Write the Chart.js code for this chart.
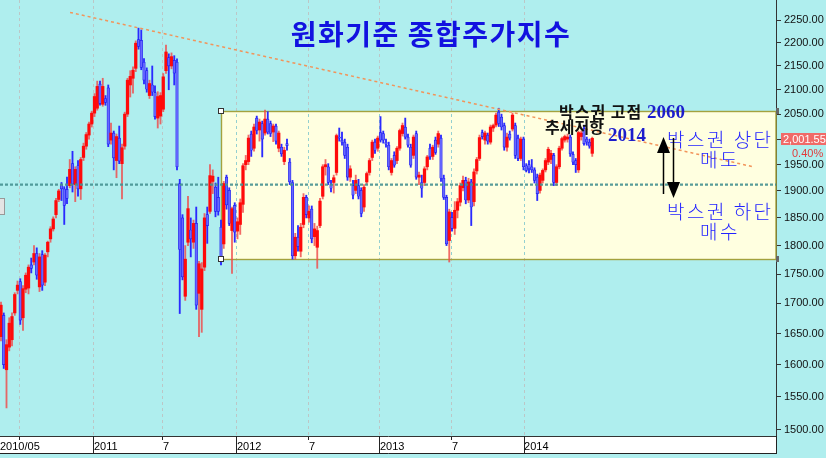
<!DOCTYPE html>
<html><head><meta charset="utf-8">
<script src="https://cdn.jsdelivr.net/npm/chart.js@4.4.1/dist/chart.umd.min.js"></script>
<style>html,body{margin:0;padding:0;background:#afeeee;overflow:hidden}canvas{display:block}</style>
</head><body>
<canvas id="c" width="826" height="458" style="width:826px;height:458px"></canvas>
<script>
// ---- weekly candles (bar index 0 = first week shown) ----
const opens = [1645,1680,1592,1628,1640,1684,1722,1737,1676,1724, 1726,1766,1771,1786,1728,1784,1736,1789,1812,1830, 1856,1884,1912,1904,1903,1910,1952,1912,1948,1904, 1964,1986,2008,2030,2052,2062,2112,2070,2082,2104, 1998,2012,1958,2002,1952,1986,2050,2110,2124,2145, 2207,2205,2158,2140,2088,2110,2094,2042,2046,2060, 2140,2168,2150,2162,2158,1914,1850,1712,1806,1828, 1806,1840,1717,1690,1762,1856,1862,1918,1907,1888, 1833,1803,1926,1901,1827,1873,1826,1838,1875,1950, 1956,2010,1982,2042,2018,2031,2012,2040,2031,2014, 2026,1982,1984,1956,1991,1955,1916,1782,1815,1790, 1838,1888,1850,1866,1816,1797,1836,1890,1946,1946, 1912,1916,1935,2004,1998,1994,1984,1926,1910,1901, 1910,1901,1870,1917,1935,1964,1994,1982,2013,2011, 1994,1988,1935,1968,1958,1982,2011,2024,2004,1984, 1968,2011,1926,1916,1916,1946,1982,1966,1998,1990, 2002,1924,1888,1809,1851,1831,1864,1879,1906,1920, 1883,1917,1880,1938,1962,2013,1998,2008,1994,2022, 2028,2054,2044,2027,1984,2010,2020,2027,2002,1962, 2000,1948,1950,1946,1940,1926,1901,1920,1940,1955, 1960,1968,1916,1946,1982,1998,2000,2004,1970,1958, 1940,2005,2021,2000,1994,1972];
const highs = [1702,1684,1640,1676,1684,1718,1738,1742,1730,1752, 1766,1778,1800,1796,1786,1791,1786,1808,1834,1852, 1886,1903,1916,1908,1926,1960,1976,1946,1958,1964, 1992,2013,2034,2056,2092,2118,2118,2124,2088,2110, 2032,2016,2010,2026,1990,2054,2124,2140,2148,2204, 2232,2228,2166,2146,2120,2150,2108,2096,2094,2134, 2195,2176,2178,2172,2165,1922,1856,1800,1890,1850, 1846,1870,1772,1770,1858,1870,1950,1940,1915,1926, 1846,1918,1930,1906,1870,1878,1850,1885,1952,1968, 2008,2016,2030,2046,2040,2036,2058,2055,2036,2030, 2030,2016,1990,1984,2000,1962,1920,1822,1836,1840, 1895,1892,1872,1872,1840,1835,1886,1950,1960,1952, 1920,1930,2010,2022,2014,2000,1990,1948,1920,1930, 1922,1906,1912,1936,1962,1998,2000,2006,2045,2016, 2000,1994,1962,1975,1985,2020,2032,2042,2010,1990, 2008,2016,1936,1930,1946,1968,1990,1988,2004,2016, 2008,1930,1892,1866,1860,1880,1886,1915,1928,1926, 1924,1922,1942,1964,2008,2018,2016,2012,2028,2030, 2052,2062,2050,2032,2012,2016,2052,2032,2008,2004, 2004,1952,1958,1960,1944,1932,1934,1942,1962,1984, 1978,1972,1950,1986,2004,2008,2010,2008,1975,1962, 2016,2016,2028,2004,2000,2004];
const lows = [1638,1594,1533,1622,1630,1680,1716,1665,1655,1718, 1716,1752,1766,1741,1720,1722,1730,1780,1806,1826, 1850,1880,1882,1838,1876,1906,1898,1880,1890,1884, 1958,1980,2000,2024,2045,2058,2068,2066,2068,1985, 1990,1940,1925,1952,1885,1980,2045,2085,2093,2138, 2186,2142,2112,2095,2082,2088,2040,2022,2030,2055, 2134,2100,2144,2110,1940,1683,1740,1705,1800,1780, 1795,1690,1645,1652,1756,1804,1858,1895,1852,1855, 1766,1795,1866,1836,1751,1806,1812,1820,1860,1940, 1950,1966,1976,2010,1996,1965,2008,2010,2005,1995, 1990,1975,1966,1950,1978,1912,1776,1776,1790,1780, 1832,1850,1842,1805,1800,1760,1832,1885,1930,1912, 1898,1896,1930,1996,1988,1962,1920,1918,1885,1895, 1885,1852,1862,1912,1930,1958,1972,1976,1994,1992, 1984,1940,1930,1945,1952,1978,2006,2000,1984,1945, 1962,1922,1912,1888,1910,1940,1960,1960,1970,1984, 1918,1884,1800,1771,1826,1820,1850,1872,1900,1876, 1878,1836,1872,1932,1958,2000,1990,1990,1990,2015, 2024,2025,2018,1978,1976,1998,2016,1962,1958,1958, 1940,1936,1934,1935,1915,1882,1896,1915,1936,1950, 1952,1910,1910,1942,1978,1994,1994,1966,1950,1935, 1935,1998,1988,1988,1982,1966];
const closes = [1697,1600,1632,1667,1678,1715,1731,1672,1725,1748, 1762,1760,1786,1748,1780,1731,1783,1806,1830,1848, 1882,1900,1904,1873,1886,1941,1913,1941,1904,1960, 1986,2009,2030,2052,2086,2107,2072,2107,2074,1990, 2012,1963,2005,1957,1983,2050,2120,2128,2141,2199, 2192,2147,2120,2101,2113,2095,2045,2086,2088,2127, 2180,2150,2170,2135,1946,1793,1745,1776,1867,1812, 1840,1697,1768,1759,1850,1836,1929,1928,1862,1862, 1775,1914,1874,1840,1867,1824,1843,1878,1948,1958, 2002,1978,2024,2017,2034,2000,2040,2014,2011,2026, 1996,2012,1971,1978,1987,1917,1782,1815,1798,1833, 1888,1856,1862,1812,1830,1827,1881,1946,1950,1916, 1905,1925,2007,2002,1994,1968,1926,1942,1892,1920, 1890,1858,1907,1933,1958,1994,1978,2002,1998,1998, 1990,1946,1958,1949,1982,2017,2027,2004,1988,1949, 2004,1926,1930,1905,1942,1965,1965,1984,1974,2011, 1924,1888,1803,1861,1831,1864,1880,1910,1920,1883, 1917,1870,1936,1960,2003,2005,2012,1996,2024,2027, 2048,2031,2024,1984,2004,2002,2048,1968,1962,2000, 1946,1939,1942,1940,1920,1895,1930,1939,1958,1980, 1972,1916,1946,1982,2001,2005,2004,1971,1955,1950, 2013,2012,1991,1994,1986,2001.55];

// ---- axis ticks ----
const xTickPos    = [6.9, 33.8, 58.9, 85.8, 112, 137.8, 164, 190.2];
const xTickLabels = ['2010/05','2011','7','2012','7','2013','7','2014'];
const yTicks = [1500,1550,1600,1650,1700,1750,1800,1850,1900,1950,2000,2050,2100,2150,2200,2250];

// ---- annotations (values) ----
const boxStartIdx = 80, boxTop = 2056, boxBottom = 1776;
const supportLevel = 1912;
const trendIdx = [25.1, 273.5];
const trendVal = [2267, 1946];
const lastPriceText = '2,001.55';
const lastChangeText = '0.40%';
const titleText = '원화기준 종합주가지수';

const X_MIN = -0.364, X_MAX = 281.82, Y_MIN = 1491, Y_MAX = 2295;

const UP_BODY = '#ff0a0a', UP_WICK = 'rgba(240,70,70,0.8)';
const DN_BODY = 'rgba(110,110,255,0.92)', DN_BORDER = '#1c1cf0', DN_WICK = '#2a2aff';

const isUp = closes.map((c, i) => c >= opens[i]);
const wickData = highs.map((h, i) => ({x: i, y: [lows[i], h]}));
const bodyData = opens.map((o, i) => ({x: i, y: [Math.min(o, closes[i]), Math.max(o, closes[i])]}));

// axis ticks: the first label ('2010/05') is drawn flush at the left edge, its grid line stays at its date
const axisTicks = [{value: X_MIN, text: xTickLabels[0], line: false}, {value: xTickPos[0], text: '', line: true}]
  .concat(xTickPos.slice(1).map((v, i) => ({value: v, text: xTickLabels[i + 1], line: true})));

function alignPx(p){ return Math.round(p - 0.5) + 0.5; }

const deco = {
  id: 'deco',
  beforeDraw(chart) {
    const {ctx, chartArea: a, scales: {x, y}} = chart;
    ctx.save();
    ctx.fillStyle = '#afeeee';
    ctx.fillRect(0, 0, chart.width, chart.height);
    ctx.fillStyle = '#ffffff';
    ctx.fillRect(0, a.bottom, a.right + 1, 17);
    const bx = x.getPixelForValue(boxStartIdx), bt = y.getPixelForValue(boxTop), bb = y.getPixelForValue(boxBottom);
    ctx.fillStyle = '#ffffe0';
    ctx.fillRect(bx, bt, a.right - bx, bb - bt);
    ctx.restore();
  },
  beforeDatasetsDraw(chart) {
    const {ctx, chartArea: a, scales: {x, y}} = chart;
    const bx = x.getPixelForValue(boxStartIdx), bt = y.getPixelForValue(boxTop), bb = y.getPixelForValue(boxBottom);
    ctx.save();
    ctx.beginPath(); ctx.rect(bx + 1, bt + 1, a.right - bx - 1, bb - bt - 2); ctx.clip();
    ctx.strokeStyle = '#93d0d0'; ctx.lineWidth = 1; ctx.setLineDash([3, 3]);
    xTickPos.forEach(v => {
      const px = alignPx(x.getPixelForValue(v));
      ctx.beginPath(); ctx.moveTo(px, a.top); ctx.lineTo(px, a.bottom); ctx.stroke();
    });
    ctx.restore();
    ctx.save();
    ctx.strokeStyle = '#a3a23e'; ctx.lineWidth = 1.4;
    ctx.strokeRect(Math.round(bx) + 0.5, Math.round(bt) + 0.5, a.right - Math.round(bx) - 0.5, Math.round(bb - bt));
    ctx.restore();
  },
  afterDraw(chart) {
    const {ctx, chartArea: a, scales: {x, y}} = chart;
    const bx = x.getPixelForValue(boxStartIdx), bt = y.getPixelForValue(boxTop), bb = y.getPixelForValue(boxBottom);
    ctx.save();
    ctx.strokeStyle = '#222'; ctx.lineWidth = 1;
    ctx.beginPath(); ctx.moveTo(0, a.bottom + 17.5); ctx.lineTo(a.right + 1, a.bottom + 17.5); ctx.stroke();
    ctx.beginPath(); ctx.moveTo(a.right + 0.5, a.bottom); ctx.lineTo(a.right + 0.5, a.bottom + 17.5); ctx.stroke();
    xTickPos.forEach((v, i) => {
      if (xTickLabels[i].length === 4) {
        const px = alignPx(x.getPixelForValue(v));
        ctx.beginPath(); ctx.moveTo(px, a.bottom); ctx.lineTo(px, a.bottom + 17); ctx.stroke();
      }
    });
    ctx.fillStyle = '#fff'; ctx.strokeStyle = '#333'; ctx.lineWidth = 1;
    [bt, bb].forEach(py => { ctx.fillRect(Math.round(bx) - 3, Math.round(py) - 3, 6, 6); ctx.strokeRect(Math.round(bx) - 2.5, Math.round(py) - 2.5, 5, 5); });
    ctx.fillStyle = '#666';
    [bt, bb].forEach(py => { ctx.fillRect(a.right, Math.round(py) - 3, 3, 6); });
    ctx.fillStyle = '#e4e4e4'; ctx.strokeStyle = '#999';
    ctx.fillRect(0, 198, 5, 17); ctx.strokeRect(-0.5, 198.5, 5, 16);

    ctx.textBaseline = 'middle';
    ctx.textAlign = 'center';
    ctx.fillStyle = '#1212e0';
    ctx.font = 'bold 28px "Noto Sans CJK KR", sans-serif';
    ctx.letterSpacing = '1.5px';
    ctx.fillText(titleText, 431, 34);

    ctx.textAlign = 'left';
    ctx.fillStyle = '#111';
    ctx.font = 'bold 16px "Noto Sans CJK KR", sans-serif';
    ctx.letterSpacing = '1px';
    ctx.fillText('박스권 고점', 559, 112);
    ctx.letterSpacing = '0px';
    ctx.fillText('추세저항', 545, 127);
    ctx.fillStyle = '#1c1ccc';
    ctx.font = 'bold 19px "Liberation Serif", serif';
    ctx.fillText('2060', 647, 113);
    ctx.fillText('2014', 608, 136);
    ctx.fillStyle = '#2222ff';
    ctx.font = '300 19px "Noto Sans CJK KR", sans-serif';
    ctx.letterSpacing = '2.5px';
    ctx.fillText('박스권 상단', 667, 140);
    ctx.fillText('매도', 700, 160);
    ctx.fillText('박스권 하단', 667, 212);
    ctx.fillText('매수', 700, 232);
    ctx.letterSpacing = '0px';

    ctx.strokeStyle = '#000'; ctx.fillStyle = '#000'; ctx.lineWidth = 1.5;
    ctx.beginPath(); ctx.moveTo(663.5, 194); ctx.lineTo(663.5, 150); ctx.stroke();
    ctx.beginPath(); ctx.moveTo(657, 153); ctx.lineTo(670, 153); ctx.lineTo(663.5, 137); ctx.closePath(); ctx.fill();
    ctx.beginPath(); ctx.moveTo(673.5, 138); ctx.lineTo(673.5, 185); ctx.stroke();
    ctx.beginPath(); ctx.moveTo(667, 182); ctx.lineTo(680, 182); ctx.lineTo(673.5, 198); ctx.closePath(); ctx.fill();

    ctx.fillStyle = '#f06a68';
    ctx.fillRect(781, 133, 45, 12);
    ctx.fillStyle = '#ffffff';
    ctx.font = '11px "Liberation Sans", Arial, sans-serif';
    ctx.fillText(lastPriceText, 783, 139.5);
    ctx.fillStyle = '#e23a3a';
    ctx.fillText(lastChangeText, 792, 153.5);
    ctx.restore();
  }
};

new Chart(document.getElementById('c'), {
  type: 'bar',
  data: {
    datasets: [
      { type: 'line', data: [{x: trendIdx[0], y: trendVal[0]}, {x: trendIdx[1], y: trendVal[1]}],
        borderColor: '#f2945a', borderWidth: 1.5, borderDash: [3, 3], pointRadius: 0, order: 0 },
      { type: 'line', data: [{x: X_MIN, y: supportLevel}, {x: X_MAX, y: supportLevel}],
        borderColor: 'rgba(70,145,145,0.9)', borderWidth: 2.2, borderDash: [3, 2], pointRadius: 0, order: 0 },
      { data: wickData, backgroundColor: isUp.map(u => u ? UP_WICK : DN_WICK),
        barThickness: 1.2, grouped: false, order: 2, borderWidth: 0, minBarLength: 1 },
      { data: bodyData, backgroundColor: isUp.map(u => u ? UP_BODY : DN_BODY),
        borderColor: isUp.map(u => u ? UP_BODY : DN_BORDER), borderWidth: isUp.map(u => u ? 0 : 0.7),
        borderSkipped: false, barThickness: 2.6, grouped: false, order: 1, minBarLength: 1 }
    ]
  },
  options: {
    responsive: false, animation: false, events: [],
    layout: { padding: { left: 0, right: 0, top: 0, bottom: 5 }, autoPadding: false },
    plugins: { legend: { display: false }, tooltip: { enabled: false } },
    scales: {
      x: {
        type: 'linear', min: X_MIN, max: X_MAX, offset: false, position: 'bottom',
        afterBuildTicks: s => { s.ticks = axisTicks.map(t => ({value: t.value})); },
        afterFit: s => { s.height = 17; s.paddingLeft = 0; s.paddingRight = 0; },
        grid: { display: true, drawOnChartArea: true, drawTicks: true, tickLength: 4, offset: false,
                color: c => (axisTicks[c.index] && axisTicks[c.index].line) ? '#bcc6c6' : 'rgba(0,0,0,0)',
                tickColor: c => (axisTicks[c.index] && axisTicks[c.index].line) ? '#222' : 'rgba(0,0,0,0)',
                lineWidth: 1 },
        border: { display: true, color: '#333', width: 1, dash: [3, 3] },
        ticks: { autoSkip: false, maxRotation: 0, minRotation: 0, align: 'start', padding: 0, color: '#000',
                 font: { family: '"Liberation Sans Narrow", "Liberation Sans", Arial, sans-serif', size: 11 },
                 callback: (v, i) => axisTicks[i] ? axisTicks[i].text : '' }
      },
      y: {
        type: 'logarithmic', position: 'right', min: Y_MIN, max: Y_MAX,
        afterBuildTicks: s => { s.ticks = yTicks.map(v => ({value: v})); },
        afterFit: s => { s.width = 50; s.paddingTop = 0; s.paddingBottom = 0; },
        grid: { drawOnChartArea: false, drawTicks: true, tickLength: 5, tickColor: '#333' },
        border: { display: true, color: '#333', width: 1 },
        ticks: { padding: 3, color: '#111', autoSkip: false,
                 font: { family: '"Liberation Sans", Arial, sans-serif', size: 11 },
                 callback: v => Number(v).toFixed(2) }
      }
    }
  },
  plugins: [deco]
});
</script>
</body></html>
